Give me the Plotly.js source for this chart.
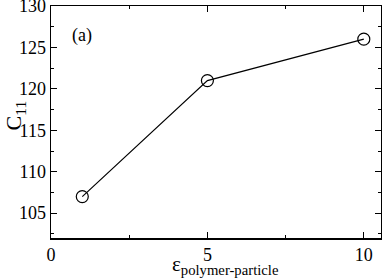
<!DOCTYPE html>
<html>
<head>
<meta charset="utf-8">
<script src="https://cdn.plot.ly/plotly-3.0.1.min.js"></script>
<style>
  body { margin: 0; padding: 0; background: #fff; }
  #chart { width: 382px; height: 279px; }
</style>
</head>
<body>
<div id="chart"></div>
<script>
// values
var epsilon = [1, 5, 10];
var c11 = [107, 121, 126];

var font = '"Liberation Serif", serif';

var trace = {
  x: epsilon,
  y: c11,
  type: 'scatter',
  mode: 'lines+markers',
  line: { color: 'black', width: 1.2 },
  marker: { symbol: 'circle-open', size: 12, color: 'black', line: { width: 1.2 } },
  showlegend: false
};

var axisStyle = {
  ticks: 'inside',
  ticklen: 6,
  tickwidth: 1,
  tickcolor: 'black',
  minor: { dtick: 2.5, tick0: 0, ticks: 'inside', ticklen: 3, tickcolor: 'black' },
  showline: true,
  linecolor: 'black',
  linewidth: 1.5,
  mirror: 'ticks',
  showgrid: false,
  zeroline: false,
  ticklabeloverflow: 'allow',
  tickfont: { family: font, size: 18 }
};

var layout = {
  width: 382,
  height: 279,
  margin: { l: 51, r: 1, t: 6, b: 41 },
  paper_bgcolor: 'white',
  plot_bgcolor: 'white',
  font: { family: font, size: 16, color: 'black' },
  xaxis: Object.assign({ range: [0, 10.55], tickvals: [0, 5, 10] }, axisStyle),
  yaxis: Object.assign({ range: [102, 130], tickvals: [105, 110, 115, 120, 125, 130] }, axisStyle),
  annotations: [
    {
      x: 1.0, y: 126.4, xref: 'x', yref: 'y',
      text: '(a)', showarrow: false,
      font: { family: font, size: 18, color: 'black' }
    },
    // axis titles placed by hand
    {
      x: 0.53, y: -0.05, xref: 'paper', yref: 'paper',
      xanchor: 'center', yanchor: 'top',
      text: 'ε<sub>polymer-particle</sub>', showarrow: false,
      font: { family: font, size: 21, color: 'black' }
    },
    {
      x: -0.108, y: 0.53, xref: 'paper', yref: 'paper',
      xanchor: 'center', yanchor: 'middle', textangle: -90,
      text: 'C<sub>11</sub>', showarrow: false,
      font: { family: font, size: 22, color: 'black' }
    }
  ]
};

Plotly.newPlot('chart', [trace], layout, { displayModeBar: false, staticPlot: true });
</script>
</body>
</html>
